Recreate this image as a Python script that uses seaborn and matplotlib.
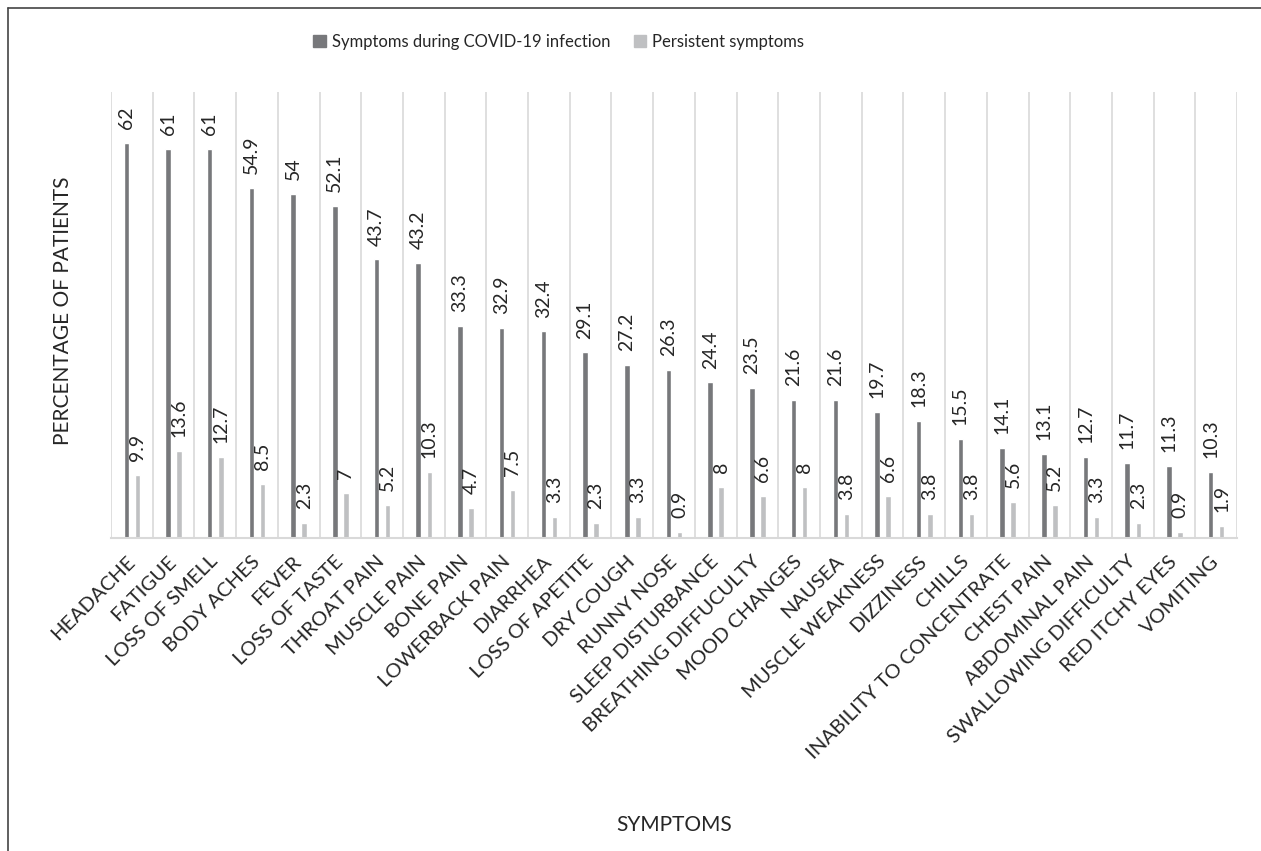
import matplotlib
matplotlib.use("Agg")
import matplotlib.pyplot as plt
from matplotlib.lines import Line2D
import seaborn as sns
import pandas as pd
import numpy as np

symptoms = ["HEADACHE", "FATIGUE", "LOSS OF SMELL", "BODY ACHES", "FEVER",
            "LOSS OF TASTE", "THROAT PAIN", "MUSCLE PAIN", "BONE PAIN",
            "LOWERBACK PAIN", "DIARRHEA", "LOSS OF APETITE", "DRY COUGH",
            "RUNNY NOSE", "SLEEP DISTURBANCE", "BREATHING DIFFUCULTY",
            "MOOD CHANGES", "NAUSEA", "MUSCLE WEAKNESS", "DIZZINESS", "CHILLS",
            "INABILITY TO CONCENTRATE", "CHEST PAIN", "ABDOMINAL PAIN",
            "SWALLOWING DIFFICULTY", "RED ITCHY EYES", "VOMITING"]
during = [62, 61, 61, 54.9, 54, 52.1, 43.7, 43.2, 33.3, 32.9, 32.4, 29.1, 27.2,
          26.3, 24.4, 23.5, 21.6, 21.6, 19.7, 18.3, 15.5, 14.1, 13.1, 12.7,
          11.7, 11.3, 10.3]
persistent = [9.9, 13.6, 12.7, 8.5, 2.3, 7, 5.2, 10.3, 4.7, 7.5, 3.3, 2.3, 3.3,
              0.9, 8, 6.6, 8, 3.8, 6.6, 3.8, 3.8, 5.6, 5.2, 3.3, 2.3, 0.9, 1.9]
series_names = ["Symptoms during COVID-19 infection", "Persistent symptoms"]
colors = ["#77787b", "#bfc0c2"]
text_color = "#262626"

df = pd.DataFrame({"symptom": symptoms * 2,
                   "value": during + persistent,
                   "series": [series_names[0]] * len(symptoms) + [series_names[1]] * len(symptoms)})

sns.set_style("white")
plt.rcParams["font.family"] = ["Lato", "DejaVu Sans"]

fig = plt.figure(figsize=(12.61, 8.51), dpi=100)
ax = fig.add_axes([0.088, 0.368, 0.893, 0.524])

sns.barplot(data=df, x="symptom", y="value", hue="series", order=symptoms,
            hue_order=series_names, palette=colors, width=0.53, gap=0.5,
            saturation=1, ax=ax, legend=True)

for cont in ax.containers:
    ax.bar_label(cont, labels=[f"{v:g}" for v in cont.datavalues],
                 rotation=90, padding=10, fontsize=14, color=text_color)

ax.set_ylim(0, 70)
ax.set_xlim(-0.5, len(symptoms) - 0.5)
ax.set_yticks([])
ax.set_xticks(np.arange(-0.5, len(symptoms), 1.0), minor=True)
ax.grid(True, which="minor", axis="x", color="#d9d9d9", linewidth=1.2)
ax.tick_params(axis="x", which="both", length=0)
for s in ["top", "right", "left"]:
    ax.spines[s].set_visible(False)
ax.spines["bottom"].set_color("#d9d9d9")
ax.spines["bottom"].set_linewidth(1.5)

ax.set_xticks(range(len(symptoms)))
ax.set_xticklabels(symptoms, rotation=45, ha="right", va="center",
                   rotation_mode="anchor", fontsize=14.5, color=text_color)
ax.tick_params(axis="x", pad=15)

ax.set_xlabel("SYMPTOMS", fontsize=15, color=text_color)
ax.xaxis.set_label_coords(0.5, -0.621)
ax.set_ylabel("PERCENTAGE OF PATIENTS", fontsize=15, color=text_color)
ax.yaxis.set_label_coords(-0.034, 0.51)

ax.legend_.remove()
handles = [plt.Rectangle((0, 0), 1, 1, color=c) for c in colors]
fig.legend(handles, series_names, loc="center", bbox_to_anchor=(0.443, 0.951),
           ncol=2, frameon=False, fontsize=12, handlelength=0.75,
           handleheight=0.75, handletextpad=0.35, columnspacing=1.4,
           labelcolor=text_color)

# outer frame (top and left edges)
fig.add_artist(Line2D([8 / 1261, 1.0], [1 - 8 / 851, 1 - 8 / 851],
                      transform=fig.transFigure, color="#444444", linewidth=1.2))
fig.add_artist(Line2D([8 / 1261, 8 / 1261], [0, 1 - 8 / 851],
                      transform=fig.transFigure, color="#444444", linewidth=1.2))

fig.savefig("out.png", dpi=100, facecolor="white")
